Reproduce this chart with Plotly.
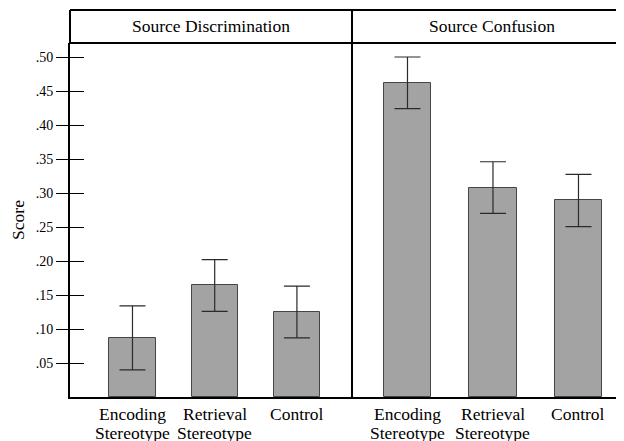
import plotly.graph_objects as go

categories = ["Encoding<br>Stereotype", "Retrieval<br>Stereotype", "Control"]
panel_titles = ["Source Discrimination", "Source Confusion"]
discrimination_mean = [0.087, 0.164, 0.125]
discrimination_err = [0.047, 0.038, 0.038]
confusion_mean = [0.462, 0.308, 0.289]
confusion_err = [0.038, 0.038, 0.0385]
tick_vals = [0.05, 0.10, 0.15, 0.20, 0.25, 0.30, 0.35, 0.40, 0.45, 0.50]
tick_text = [".05", ".10", ".15", ".20", ".25", ".30", ".35", ".40", ".45", ".50"]

FONT = "Liberation Serif"
BAR_FILL = "#a3a3a3"
BAR_LINE = "#454545"
ERR_COLOR = "#2a2a2a"
BIG = 17.5

fig = go.Figure()
for xa, means, errs in (("x", discrimination_mean, discrimination_err),
                        ("x2", confusion_mean, confusion_err)):
    fig.add_trace(go.Bar(
        x=categories, y=means, xaxis=xa, yaxis="y", width=0.56,
        marker=dict(color=BAR_FILL, line=dict(color=BAR_LINE, width=1)),
        error_y=dict(type="data", array=errs, visible=True,
                     color=ERR_COLOR, thickness=1.2, width=13),
        showlegend=False, hoverinfo="skip",
    ))

split = 282 / 562
header_top = 1 + 33 / 354
y_range = [0, 0.5206]

fig.update_layout(
    width=624, height=441,
    margin=dict(l=62, r=0, t=35, b=52, pad=0, autoexpand=False),
    paper_bgcolor="white", plot_bgcolor="white",
    bargap=0,
    xaxis=dict(domain=[0, split], range=[-0.76, 2.67], showline=True, linewidth=2,
               linecolor="black", ticks="", showgrid=False, zeroline=False,
               showticklabels=False, anchor="y", fixedrange=True, automargin=False),
    xaxis2=dict(domain=[split, 1], range=[-0.649, 2.626], showline=True, linewidth=2,
                linecolor="black", ticks="", showgrid=False, zeroline=False,
                showticklabels=False, anchor="y", fixedrange=True, automargin=False),
    yaxis=dict(range=y_range, tickvals=tick_vals, ticktext=tick_text,
               ticks="outside", ticklen=12, tickwidth=1.3, tickcolor="black",
               showline=True, linewidth=2, linecolor="black",
               showgrid=False, zeroline=False, automargin=False,
               tickfont=dict(family=FONT, size=14, color="black"),
               title=dict(text="Score", font=dict(family=FONT, size=BIG, color="black"),
                          standoff=17),
               anchor="x"),
    yaxis3=dict(range=y_range, tickvals=tick_vals, overlaying="y", anchor="x",
                side="left", ticks="inside", ticklen=14, tickwidth=1.3,
                tickcolor="black", showticklabels=False, showgrid=False,
                zeroline=False, showline=False, automargin=False),
)

# invisible trace to activate overlay axis
fig.add_trace(go.Scatter(x=[categories[0]], y=[None], xaxis="x", yaxis="y3",
                         showlegend=False, hoverinfo="skip"))

# category labels (two lines, tight leading) placed through each x axis
for xref in ("x", "x2"):
    for cat in categories:
        for i, part in enumerate(cat.split("<br>")):
            fig.add_annotation(text=part, x=cat, xref=xref, y=0, yref="paper",
                               yanchor="middle", xanchor="center",
                               yshift=-17 - 19 * i, showarrow=False,
                               font=dict(family=FONT, size=BIG, color="black"))

line = dict(color="black", width=2)
# header strip frame
fig.add_shape(type="line", xref="paper", yref="paper", x0=0, x1=1,
              y0=header_top, y1=header_top, line=line)
fig.add_shape(type="line", xref="paper", yref="paper", x0=0, x1=1,
              y0=1, y1=1, line=line)
fig.add_shape(type="line", xref="paper", yref="paper", x0=0, x1=0,
              y0=1, y1=header_top, line=line)
fig.add_shape(type="line", xref="paper", yref="paper", x0=split, x1=split,
              y0=0, y1=header_top, line=line)

for title, (a, b) in zip(panel_titles, ((0, split), (split, 1))):
    fig.add_annotation(text=title, xref="paper", yref="paper",
                       x=(a + b) / 2, y=(1 + header_top) / 2,
                       showarrow=False, xanchor="center", yanchor="middle",
                       font=dict(family=FONT, size=BIG, color="black"))

fig.write_html("out.html")
